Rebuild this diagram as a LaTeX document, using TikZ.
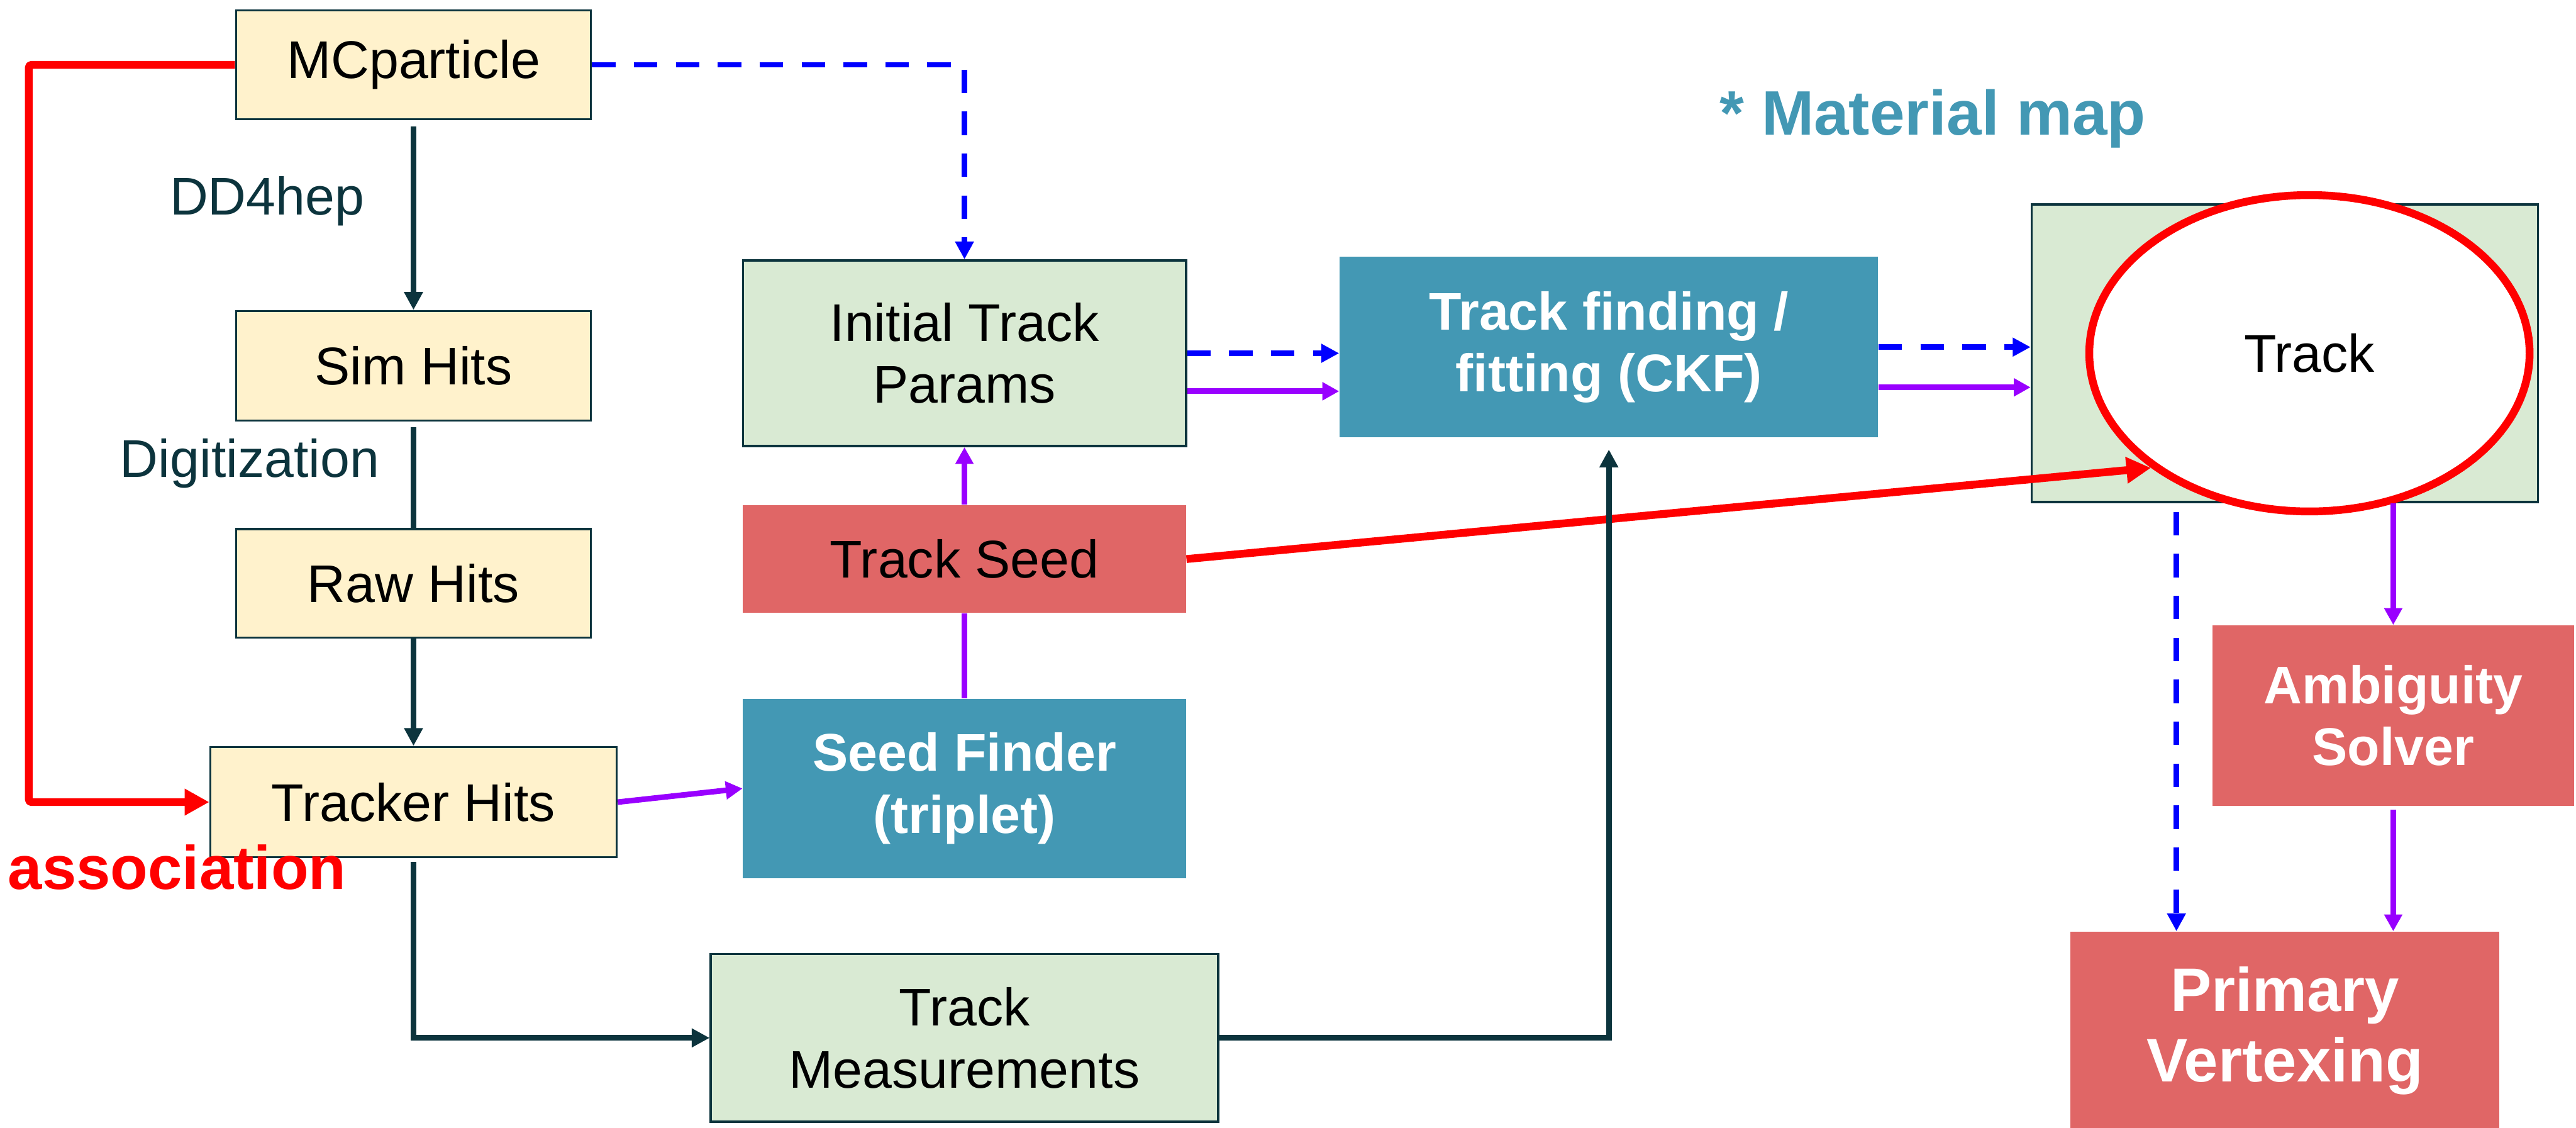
\documentclass[tikz,border=0pt]{standalone}
\usepackage{fontspec}
\setmainfont{Liberation Sans}
\usepackage{tikz}
\usetikzlibrary{arrows.meta, positioning, shapes.geometric, calc}

\definecolor{darkline}{HTML}{0C343D}
\definecolor{yellowfill}{HTML}{FFF2CC}
\definecolor{greenfill}{HTML}{D9EAD3}
\definecolor{tealfill}{HTML}{4398B4}
\definecolor{redfill}{HTML}{E06666}
\definecolor{flowpurple}{HTML}{9900FF}
\definecolor{flowblue}{HTML}{0000FF}
\definecolor{flowred}{HTML}{FF0000}

\begin{document}
\begin{tikzpicture}[
      node distance=1.9cm and 2.72cm,
      yellowbox/.style={rectangle, draw=darkline, line width=0.04cm,
                    minimum width=6.35cm, minimum height=1.95cm, inner sep=0pt,
                    align=center, fill=yellowfill, font=\fontsize{27}{31.6}\selectfont},
      greenbox/.style={rectangle, draw=darkline, line width=0.04cm,
                    minimum width=7.93cm, minimum height=3.32cm, inner sep=0pt,
                    align=center, fill=greenfill, font=\fontsize{27}{31.6}\selectfont},
      tealbox/.style={rectangle, minimum width=7.93cm, minimum height=3.21cm,
                    inner sep=0pt, align=center, fill=tealfill, text=white,
                    font=\bfseries\fontsize{27}{31.6}\selectfont},
      redbox/.style={rectangle, minimum width=7.93cm, minimum height=1.93cm,
                    inner sep=0pt, align=center, fill=redfill,
                    font=\fontsize{27}{31.6}\selectfont},
      steplabel/.style={text=darkline, font=\fontsize{27}{31.6}\selectfont, anchor=base},
      darkarrow/.style={-{Triangle[length=0.32cm, width=0.32cm]}, line width=0.1cm, draw=darkline},
      darkplain/.style={line width=0.1cm, draw=darkline},
      purplearrow/.style={-{Triangle[length=0.3cm, width=0.31cm]}, line width=0.1cm, draw=flowpurple},
      purpleplain/.style={line width=0.1cm, draw=flowpurple},
      bluearrow/.style={-{Triangle[length=0.32cm, width=0.32cm]}, line width=0.1cm, draw=flowblue,
                    dash pattern=on 0.42cm off 0.33cm},
      redarrow/.style={-{Triangle[length=0.44cm, width=0.45cm]}, line width=0.14cm, draw=flowred,
                    line join=round}
    ]
        \useasboundingbox (0,0) rectangle (46.10,20.18);

        \node[yellowbox] (mc) at (7.40,19.02) {MCparticle};
        \node[yellowbox, below=3.39cm of mc, minimum height=1.96cm] (sim) {Sim Hits};
        \node[yellowbox, below=of sim, minimum height=1.94cm] (raw) {Raw Hits};
        \node[yellowbox, below=1.92cm of raw, minimum width=7.27cm, minimum height=1.97cm] (tracker) {Tracker Hits};

        \node[steplabel] (dd4hep) at (4.78,16.34) {DD4hep};
        \node[steplabel] (digi) at (4.47,11.64) {Digitization};
        \node[anchor=base, text=flowred, font=\bfseries\fontsize{31.3}{36}\selectfont] (assoc) at (3.17,4.27) {association};

        \node[greenbox] (itp) at (17.26,13.86) {Initial Track\\Params};
        \node[redbox, below=1.03cm of itp] (seed) {Track Seed};
        \node[tealbox, below=1.52cm of seed] (finder) {Seed Finder\\(triplet)};
        \node[greenbox, below=1.33cm of finder, minimum width=9.08cm, minimum height=3.0cm] (meas) {Track\\Measurements};

        \node[tealbox, right=of itp, yshift=0.11cm, minimum width=9.64cm, minimum height=3.23cm] (ckf) {Track finding /\\fitting (CKF)};
        \node[greenbox, right=of ckf, yshift=-0.11cm, minimum width=9.06cm, minimum height=5.32cm] (trackbox) {};
        \node[anchor=base, text=tealfill, font=\bfseries\fontsize{32}{36}\selectfont] (matmap) at (34.59,17.76) {* Material map};

        \node[redbox, below=2.18cm of trackbox, xshift=1.94cm, minimum width=6.48cm, minimum height=3.23cm,
              text=white, font=\bfseries\fontsize{27}{31.6}\selectfont] (ambig) {Ambiguity\\Solver};
        \node[redbox, below=7.66cm of trackbox, minimum width=7.67cm, minimum height=3.54cm,
              text=white, font=\bfseries\fontsize{31.3}{35.9}\selectfont] (pv) {Primary\\Vertexing};

        \node[ellipse, draw=flowred, line width=0.14cm, fill=white, inner sep=0pt,
              minimum width=7.88cm, minimum height=5.66cm, font=\fontsize{27}{31.6}\selectfont]
              (track) at ($(trackbox.center)+(0.44,0)$) {Track};
        \draw[redarrow] (seed.east) -- (track.south west);
        \draw[redarrow, rounded corners=0.05cm] (mc.west) -- ++(-3.69,0) |- (tracker.west);

        \draw[darkarrow, shorten <=0.11cm] (mc) -- (sim);
        \draw[darkplain, shorten <=0.1cm] (sim) -- (raw);
        \draw[darkarrow] (raw) -- (tracker);
        \draw[darkarrow, shorten <=0.06cm] (tracker.south) |- (meas.west);
        \draw[darkarrow, shorten >=0.21cm] (meas.east) -| (ckf.south);

        \draw[purplearrow] (tracker.east) -- (finder.west);
        \draw[purpleplain] (finder) -- (seed);
        \draw[purplearrow] (seed) -- (itp);
        \draw[bluearrow] (mc.east) -| (itp.north);

        \draw[bluearrow] (itp.east) -- (itp.east -| ckf.west);
        \draw[purplearrow] ([yshift=-0.68cm]itp.east) -- ([yshift=-0.68cm]itp.east -| ckf.west);
        \draw[bluearrow] (ckf.east) -- (ckf.east -| trackbox.west);
        \draw[purplearrow] ([yshift=-0.72cm]ckf.east) -- ([yshift=-0.72cm]ckf.east -| trackbox.west);

        \draw[bluearrow, shorten <=0.16cm] ([xshift=-1.94cm]trackbox.south) -- ([xshift=-1.94cm]trackbox.south |- pv.north);
        \draw[purplearrow] (ambig.north |- trackbox.south) -- (ambig.north);
        \draw[purplearrow, shorten <=0.06cm] (ambig) -- (ambig.south |- pv.north);
    \end{tikzpicture}
\end{document}
